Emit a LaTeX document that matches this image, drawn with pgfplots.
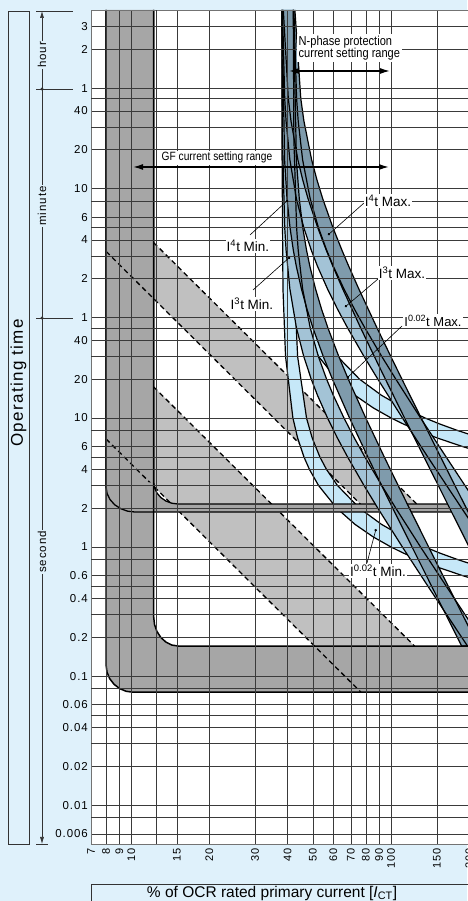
\documentclass[border=0pt]{standalone}
\usepackage{fontspec}
\setmainfont{Liberation Sans}
\newfontfamily\tickfont[LetterSpace=8]{Liberation Sans}
\newfontfamily\spacedfont[LetterSpace=8]{Liberation Sans}
\newfontfamily\narrowfont[FakeStretch=0.85]{Liberation Sans}
\usepackage{pgfplots}
\pgfplotsset{compat=1.18}
\usepackage{pgfplotstable}
\usetikzlibrary{arrows.meta}
\definecolor{bgblue}{HTML}{DFF1FB}
\definecolor{lgray}{HTML}{C0C0C0}
\definecolor{dgray}{HTML}{A6A6A6}
\definecolor{lblue}{HTML}{C6E8F8}
\definecolor{mblue}{HTML}{A3C3D6}
\definecolor{sblue}{HTML}{7F9BAC}
\definecolor{gridc}{HTML}{3A3A3A}

% Each band: lower edge (pickup 38) with falling time, then upper edge (pickup 42) back up
\pgfplotstableread{
x y
38.49 14500
40.22 3000
41.20 2000
43.80 1000
45.70 700
47.92 500
52.16 300
56.31 200
59.71 150
65.16 100
76.34 50
86.21 30
95.10 20
112.7 10
133.8 5
152.0 3
168.1 2
191.0 1.2
199.9 1
218.5 0.7
209.4 1.5
194.9 2
176.1 3
155.1 5
130.6 10
110.1 20
99.76 30
88.26 50
75.15 100
68.72 150
64.68 200
59.70 300
54.57 500
51.85 700
49.47 1000
46.19 2000
44.92 3000
42.65 14500
}\IfourMax
\pgfplotstableread{
x y
38.07 14500
38.92 1000
39.77 500
40.83 300
42.05 200
43.18 150
45.19 100
47.44 70
50.01 50
54.83 30
59.47 20
69.20 10
81.35 5
91.98 3
101.5 2
120.5 1
143.1 0.5
162.5 0.3
179.8 0.2
187.0 0.171
216.7 0.171
208.4 0.2
188.3 0.3
165.8 0.5
139.6 1
117.6 2
106.5 3
94.10 5
79.91 10
68.44 20
62.91 30
57.12 50
53.98 70
51.21 100
48.69 150
47.27 200
45.71 300
44.34 500
43.22 1000
42.09 14500
}\IfourMin
\pgfplotstableread{
x y
38.21 14500
38.97 3000
39.44 2000
40.79 1000
43.23 500
46.12 300
49.29 200
52.09 150
56.94 100
62.16 70
67.99 50
78.69 30
88.93 20
110.6 10
138.4 5
163.6 3
187.0 2
205.7 1.5
204.5 2.5
192.5 3
162.8 5
129.9 10
104.3 20
92.07 30
79.26 50
72.23 70
65.88 100
59.94 150
56.47 200
52.50 300
48.84 500
45.67 1000
43.91 2000
43.29 3000
42.27 14500
}\IthreeMax
\pgfplotstableread{
x y
38.02 14500
38.21 1450
38.97 300
39.44 200
40.79 100
43.23 50
46.12 30
49.29 20
52.09 15
56.94 10
62.16 7
67.99 5
78.69 3
88.93 2
110.6 1
138.4 0.5
163.6 0.3
187.0 0.2
197.0 0.171
231.9 0.171
204.5 0.25
192.5 0.3
162.8 0.5
129.9 1
104.3 2
92.07 3
79.26 5
72.23 7
65.88 10
59.94 15
56.47 20
52.50 30
48.84 50
45.67 100
43.91 200
43.29 300
42.27 1450
42.03 14500
}\IthreeMin
\pgfplotstableread{
x y
38.03 14500
38.37 1000
39.26 300
41.90 100
43.69 70
46.19 50
48.49 40
52.58 30
61.80 20
72.61 15
85.26 12
100.05 10
111.3 9
127.1 8
150.6 7
188.8 6
217.9 5.5
221.2 7
180.3 8
153.6 9
135.2 10
111.4 12
91.82 15
75.60 20
62.19 30
56.40 40
53.18 50
49.72 70
47.27 100
43.69 300
42.50 1000
42.03 14500
}\IzeroMax
\pgfplotstableread{
x y
38.00 14500
38.03 1450
38.37 100
39.26 30
41.90 10
43.69 7
46.19 5
48.49 4
52.58 3
61.80 2
72.61 1.5
85.26 1.2
100.05 1.0
111.3 0.9
127.1 0.8
150.6 0.7
188.8 0.6
217.9 0.55
221.2 0.7
180.3 0.8
153.6 0.9
135.2 1.0
111.4 1.2
91.82 1.5
75.60 2
62.19 3
56.40 4
53.18 5
49.72 7
47.27 10
43.69 30
42.50 100
42.03 1450
42.00 14500
}\IzeroMin
\pgfplotstableread{
x y
8 14500
8 0.1216
8.066 0.10731
8.262 0.09550
8.585 0.08640
9.025 0.08000
9.564 0.07622
10.18 0.075
250 0.075
}\BigOuter
\pgfplotstableread{
x y
12.2 14500
12.2 0.287
12.289 0.2510
12.559 0.2216
13.003 0.1990
13.604 0.1833
14.336 0.1740
15.17 0.171
250 0.171
}\BigInner
\pgfplotstableread{
x y
8 14500
8 2.917
8.071 2.599
8.282 2.335
8.629 2.128
9.106 1.983
9.691 1.896
10.36 1.867
250 1.867
}\SmallOuter
\pgfplotstableread{
x y
12.2 14500
12.2 3.19
12.289 2.882
12.559 2.622
13.003 2.417
13.604 2.271
14.336 2.184
15.17 2.154
250 2.154
}\SmallInner

\begin{document}
\begin{tikzpicture}
\fill[bgblue] (0pt,0pt) rectangle (467pt,901pt);
\begin{axis}[
  at={(91pt,57pt)}, anchor=south west,
  scale only axis, width=389pt, height=834pt,
  xmode=log, ymode=log,
  xmin=7, xmax=220, ymin=0.005, ymax=14500,
  axis on top,
  axis background/.style={fill=white},
  axis line style={draw=black!55, line width=0.8pt},
  major tick length=0pt, minor tick length=0pt,
  xtick={7,8,9,10,15,20,30,40,50,60,70,80,90,100,150,200},
  xticklabels={7,8,9,10,15,20,30,40,50,60,70,80,90,100,150,200},
  extra x ticks={12.5},
  extra x tick labels={},
  extra x tick style={grid=major},
  ytick={0.006,0.01,0.02,0.04,0.06,0.1,0.2,0.4,0.6,1,2,4,6,10,20,40,60,120,240,360,600,1200,2400,3600,7200,10800},
  yticklabels={0.006,0.01,0.02,0.04,0.06,0.1,0.2,0.4,0.6,1,2,4,6,10,20,40,1,2,4,6,10,20,40,1,2,3},
  extra y ticks={0.008,0.03,0.05,0.08,0.3,0.5,0.8,3,5,8,30,50,180,300,480,1800,3000},
  extra y tick labels={},
  extra y tick style={grid=major},
  grid=major,
  major grid style={draw=gridc, line width=0.55pt},
  xticklabel style={rotate=90, anchor=east, inner sep=0pt, font={\tickfont\fontsize{11}{12}\selectfont}},
  yticklabel style={anchor=east, inner sep=0pt, font={\tickfont\fontsize{11.5}{12}\selectfont}},
  xticklabel shift=4pt, yticklabel shift=3pt,
]
% light gray GF inverse-time bands
\addplot[fill=lgray, draw=none] coordinates {(12.2,228.4) (134.8,1.87) (81.8,1.87) (12.2,84.0)};
\addplot[fill=lgray, draw=none] coordinates {(12.2,17.40) (123.1,0.171) (50.73,0.171) (12.2,2.956)};
% big L band
\addplot[fill=dgray, draw=none] coordinates {(8,14500) (8,0.1216) (8.066,0.10731) (8.262,0.09550) (8.585,0.08640) (9.025,0.08000) (9.564,0.07622) (10.18,0.075) (250,0.075) (250,0.171) (15.17,0.171) (14.336,0.1740) (13.604,0.1833) (13.003,0.1990) (12.559,0.2216) (12.289,0.2510) (12.2,0.287) (12.2,14500)};
% dashed I^2t lines
\addplot[black, line width=1.3pt, dash pattern=on 5pt off 3.5pt] coordinates {(12.2,228.4) (125.8,2.15)};
\addplot[black, line width=1.3pt, dash pattern=on 5pt off 3.5pt] coordinates {(8,195.3) (76.25,2.15)};
\addplot[black, line width=1.3pt, dash pattern=on 5pt off 3.5pt] coordinates {(12.2,17.40) (123.1,0.171)};
\addplot[black, line width=1.3pt, dash pattern=on 5pt off 3.5pt] coordinates {(8,6.875) (76.6,0.075)};
% light blue I^0.02t bands
\addplot[fill=lblue, draw=none] table {\IzeroMax};
\addplot[fill=lblue, draw=none] table {\IzeroMin};
\addplot[black, line width=1.2pt, line join=round] table {\IzeroMax};
\addplot[black, line width=1.2pt, line join=round] table {\IzeroMin};
% small L band (over light blue, under the other bands)
\addplot[fill=dgray, draw=none] coordinates {(8,2.917) (8.071,2.599) (8.282,2.335) (8.629,2.128) (9.106,1.983) (9.691,1.896) (10.36,1.867) (250,1.867) (250,2.154) (15.17,2.154) (14.336,2.184) (13.604,2.271) (13.003,2.417) (12.559,2.622) (12.289,2.882) (12.2,3.19)};
\addplot[black, line width=1.3pt] table {\SmallOuter};
\addplot[black, line width=1.3pt] table {\SmallInner};
% I^3t and I^4t bands
\addplot[fill=mblue, draw=none] table {\IthreeMax};
\addplot[fill=mblue, draw=none] table {\IthreeMin};
\addplot[fill=sblue, draw=none] table {\IfourMax};
\addplot[fill=sblue, draw=none] table {\IfourMin};
\addplot[black, line width=1.2pt, line join=round] table {\IthreeMax};
\addplot[black, line width=1.2pt, line join=round] table {\IthreeMin};
\addplot[black, line width=1.2pt, line join=round] table {\IfourMax};
\addplot[black, line width=1.2pt, line join=round] table {\IfourMin};
% big L outlines
\addplot[black, line width=1.5pt] table {\BigOuter};
\addplot[black, line width=1.5pt] table {\BigInner};
\end{axis}

\begin{scope}[x=1pt,y=1pt]
\draw[black!80, line width=0.7pt] (8,57) rectangle (29,890);
\node[rotate=90, font={\spacedfont\fontsize{17}{18}\selectfont}] at (18.5,518) {Operating time};
\draw[black!80, line width=0.6pt, {Latex[length=7pt,width=4pt]}-{Latex[length=7pt,width=4pt]}] (42,890) -- (42,57);
\draw[black!80, line width=0.6pt] (36,890) -- (73,890);
\draw[black!80, line width=0.6pt] (36,812) -- (73,812);
\draw[black!80, line width=0.6pt] (36,583) -- (73,583);
\draw[black!80, line width=0.6pt] (36,57) -- (48,57);
\fill[black!80] (42,812) circle (1.6pt);
\fill[black!80] (42,583) circle (1.6pt);
\node[rotate=90, fill=bgblue, inner sep=1.5pt, font={\spacedfont\fontsize{11.5}{12}\selectfont}] at (42,846) {hour};
\node[rotate=90, fill=bgblue, inner sep=1.5pt, font={\spacedfont\fontsize{11.5}{12}\selectfont}] at (42,695) {minute};
\node[rotate=90, fill=bgblue, inner sep=1.5pt, font={\spacedfont\fontsize{11.5}{12}\selectfont}] at (42,349) {second};
\draw[black!80, line width=0.7pt] (91,-5) rectangle (480,17);
\node[anchor=base, inner sep=0pt, font=\fontsize{15.5}{16}\selectfont] at (272,4) {\% of OCR rated primary current [\textit{I}\textsubscript{CT}]};
\node[anchor=north west, fill=white, align=left, inner sep=1.5pt, font={\narrowfont\fontsize{13}{12.7}\selectfont}] at (297,867) {N-phase protection\\current setting range};
\draw[black, line width=1.4pt, {Latex[length=10pt,width=6pt]}-{Latex[length=10pt,width=6pt]}] (289,830) -- (390,830);
\node[anchor=south west, fill=white, inner sep=1.5pt, font={\narrowfont\fontsize{12}{13}\selectfont}] at (160,736) {GF current setting range};
\draw[black, line width=1.4pt, {Latex[length=10pt,width=6pt]}-{Latex[length=10pt,width=6pt]}] (133,734) -- (389,734);
\tikzset{lab/.style={fill=white, inner sep=1.2pt, font=\fontsize{13.5}{14}\selectfont}}
\draw[black, line width=0.6pt, -{Circle[length=2.5pt]}] (364,698) -- (328,666);
\node[lab] at (388,700) {I\textsuperscript{4}t Max.};
\draw[black, line width=0.6pt, -{Circle[length=2.5pt]}] (378,622) -- (345,594);
\node[lab] at (402,628) {I\textsuperscript{3}t Max.};
\draw[black, line width=0.6pt, -{Circle[length=2.5pt]}] (402,575) -- (347,523);
\node[lab, font=\fontsize{13}{14}\selectfont] at (433,580) {I\textsuperscript{0.02}t Max.};
\draw[black, line width=0.6pt, -{Circle[length=2.5pt]}] (250,666) -- (288,701);
\node[lab] at (248,655) {I\textsuperscript{4}t Min.};
\draw[black, line width=0.6pt, -{Circle[length=2.5pt]}] (253,611) -- (290,644);
\node[lab] at (252,597) {I\textsuperscript{3}t Min.};
\draw[black, line width=0.6pt, -{Circle[length=2.5pt]}] (367,338) -- (376,372);
\node[lab] at (378,330) {I\textsuperscript{0.02}t Min.};
\end{scope}
\pgfresetboundingbox
\path[use as bounding box] (0pt,0pt) rectangle (467pt,901pt);
\end{tikzpicture}
\end{document}
